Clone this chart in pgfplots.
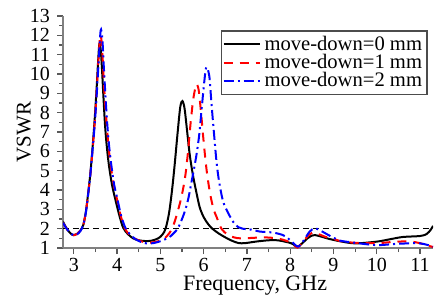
\documentclass[border=0pt]{standalone}
\usepackage{pgfplots}
\pgfplotsset{compat=1.18}
\usepackage{fontspec}
\setmainfont{Liberation Serif}
\begin{document}
\begin{tikzpicture}
\begin{axis}[
  name=ax,
  scale only axis, width=185pt, height=116pt,
  xmin=2.75, xmax=11.3, ymin=1, ymax=13,
  axis lines=left,
  axis line style={-, draw=gray, line width=1.1pt},
  every tick/.style={draw=gray!70!black, line width=0.6pt},
  tick align=outside,
  major tick length=3pt, minor tick length=2pt,
  xtick={3,4,...,11}, ytick={1,2,...,13},
  minor x tick num=1, minor y tick num=1,
  tick label style={font=\fontsize{10}{12}\selectfont},
  xticklabel style={yshift=1.5pt},
  /pgf/number format/assume math mode=true,
  xlabel={Frequency, GHz}, ylabel={VSWR},
  xlabel style={font=\fontsize{11}{13}\selectfont, at={(axis description cs:0.519,-0.163)}, anchor=center},
  ylabel style={font=\fontsize{10.5}{12}\selectfont, at={(axis description cs:-0.106,0.5)}, anchor=center, rotate=0},
  legend style={at={(axis description cs:0.986,0.94)}, anchor=north east, draw=gray!60!black, line width=0.8pt, fill=white, font=\fontsize{10.3}{10}\selectfont, inner sep=0.5pt, row sep=-3.5pt, nodes={inner sep=2pt}},
  legend cell align=left,
  legend image code/.code={\draw[#1] (2pt,0pt) -- (20pt,0pt);},
]
\addplot[black, line width=0.6pt, dash pattern=on 3pt off 2pt, forget plot] coordinates {(2.75,2) (11.3,2)};
\addplot[black, line width=1pt, smooth, tension=0.5] coordinates {
(2.75,2.36) (2.85,1.95) (2.95,1.70) (3.00,1.67) (3.07,1.72) (3.15,1.90) (3.22,2.2) (3.28,2.9) (3.33,3.8) (3.38,4.8) (3.43,6.1) (3.48,7.6) (3.52,9.0) (3.56,10.6) (3.59,11.55) (3.62,11.3) (3.65,10.3) (3.68,9.0) (3.72,7.4) (3.76,6.3) (3.81,5.3) (3.88,4.3) (3.95,3.6) (4.05,2.7) (4.14,2.05) (4.25,1.72) (4.37,1.5) (4.5,1.40) (4.65,1.36) (4.8,1.38) (4.95,1.5) (5.05,1.7) (5.12,2.0) (5.2,2.8) (5.27,4.0) (5.33,5.3) (5.40,7.0) (5.46,8.3) (5.51,8.6) (5.56,8.2) (5.62,7.0) (5.68,5.8) (5.75,4.8) (5.83,3.9) (5.91,3.1) (6.0,2.6) (6.1,2.25) (6.2,2.0) (6.35,1.75) (6.5,1.55) (6.65,1.38) (6.8,1.26) (6.95,1.25) (7.2,1.33) (7.5,1.40) (7.7,1.40) (7.9,1.32) (8.03,1.24) (8.12,1.12) (8.18,1.07) (8.28,1.25) (8.4,1.5) (8.5,1.64) (8.57,1.67) (8.7,1.6) (8.9,1.47) (9.0,1.42) (9.15,1.35) (9.5,1.24) (10.0,1.33) (10.3,1.45) (10.6,1.57) (11.0,1.62) (11.15,1.72) (11.25,1.95) (11.3,2.15)
};
\addlegendentry{move-down=0 mm}
\addplot[red, line width=1pt, dash pattern=on 4.5pt off 3.5pt, smooth, tension=0.5] coordinates {
(2.75,2.3) (2.85,1.95) (2.95,1.70) (3.0,1.66) (3.07,1.72) (3.15,1.9) (3.22,2.2) (3.28,2.9) (3.33,3.75) (3.38,4.75) (3.43,6.0) (3.48,7.4) (3.52,8.8) (3.56,10.4) (3.60,11.8) (3.62,12.0) (3.65,11.5) (3.68,10.2) (3.72,8.6) (3.76,7.4) (3.80,6.3) (3.85,5.3) (3.92,4.3) (3.99,3.6) (4.08,2.7) (4.17,2.05) (4.28,1.7) (4.4,1.5) (4.55,1.35) (4.7,1.28) (4.85,1.3) (5.0,1.38) (5.1,1.5) (5.2,1.75) (5.27,2.0) (5.35,2.5) (5.45,3.3) (5.52,4.0) (5.58,4.8) (5.64,6.0) (5.70,7.5) (5.76,8.7) (5.82,9.4) (5.85,9.45) (5.89,9.1) (5.94,8.0) (6.0,6.5) (6.07,5.0) (6.15,3.8) (6.23,3.0) (6.3,2.6) (6.41,2.0) (6.55,1.7) (6.7,1.55) (6.85,1.5) (7.1,1.52) (7.4,1.55) (7.7,1.5) (7.9,1.38) (8.0,1.3) (8.1,1.12) (8.17,1.02) (8.27,1.25) (8.4,1.6) (8.52,1.8) (8.65,1.72) (8.85,1.55) (9.0,1.48) (9.15,1.36) (9.5,1.27) (10.0,1.25) (10.3,1.3) (10.6,1.34) (10.8,1.33) (11.0,1.25) (11.15,1.15) (11.3,1.05)
};
\addlegendentry{move-down=1 mm}
\addplot[blue, line width=1pt, dash pattern=on 5pt off 2pt on 1pt off 2pt, smooth, tension=0.5] coordinates {
(2.75,2.3) (2.85,1.95) (2.95,1.72) (3.0,1.66) (3.07,1.7) (3.15,1.87) (3.22,2.2) (3.28,2.85) (3.33,3.75) (3.38,4.75) (3.43,6.0) (3.48,7.3) (3.52,8.6) (3.57,10.5) (3.61,12.0) (3.63,12.3) (3.66,11.8) (3.69,10.5) (3.73,8.9) (3.77,7.5) (3.81,6.4) (3.86,5.4) (3.93,4.3) (4.0,3.6) (4.09,2.7) (4.19,2.05) (4.3,1.7) (4.45,1.42) (4.6,1.28) (4.72,1.23) (4.85,1.26) (5.0,1.35) (5.2,1.55) (5.3,1.75) (5.4,2.0) (5.5,2.5) (5.58,3.0) (5.65,3.6) (5.71,4.3) (5.77,5.0) (5.84,5.9) (5.90,6.9) (5.95,8.1) (6.01,9.5) (6.06,10.35) (6.13,9.9) (6.18,8.5) (6.24,6.9) (6.30,5.4) (6.36,4.4) (6.45,3.4) (6.57,2.8) (6.68,2.36) (6.8,2.08) (6.9,2.0) (7.1,1.95) (7.3,1.85) (7.6,1.8) (7.83,1.67) (7.95,1.5) (8.05,1.3) (8.18,1.07) (8.3,1.35) (8.45,1.85) (8.57,2.02) (8.7,1.9) (8.9,1.65) (9.03,1.5) (9.15,1.38) (9.5,1.27) (10.0,1.15) (10.5,1.22) (11.0,1.24) (11.3,1.07)
};
\addlegendentry{move-down=2 mm}
\end{axis}
\pgfresetboundingbox
\path[use as bounding box] ([shift={(-31.5pt,-26pt)}]ax.south west) rectangle ([shift={(1pt,8pt)}]ax.north east);
\end{tikzpicture}
\end{document}
